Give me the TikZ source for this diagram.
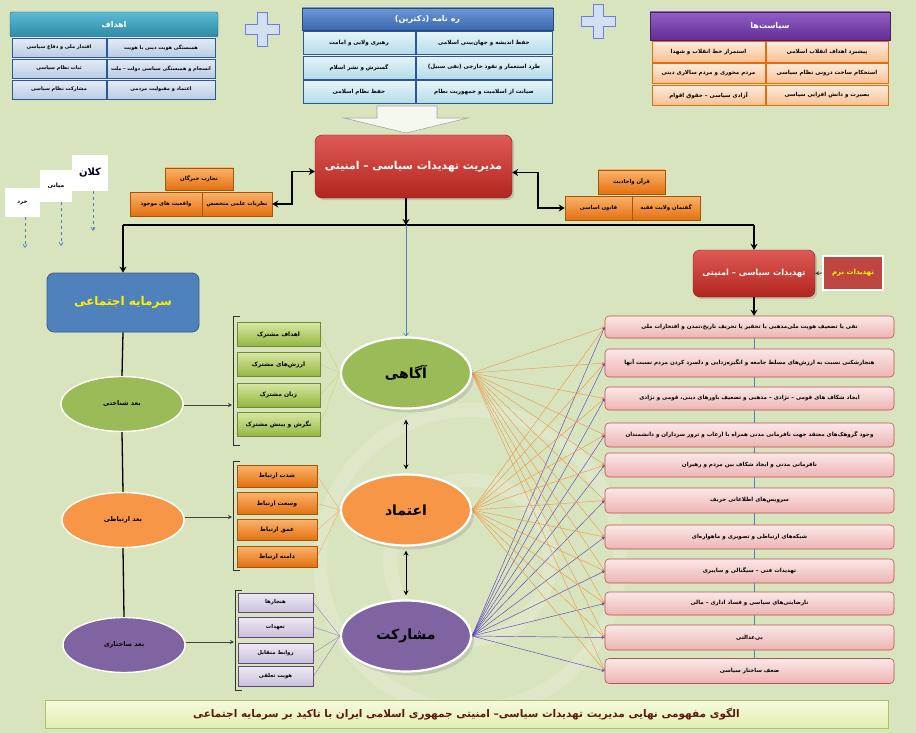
\documentclass[tikz,border=0pt]{standalone}
\usepackage{fontspec}
\TeXXeTstate=1
\newfontfamily\fa[Script=Arabic]{DejaVu Sans}
\usetikzlibrary{shapes.geometric,arrows.meta,calc,shadows}
\pgfdeclarelayer{back}
\pgfdeclarelayer{mid}
\pgfsetlayers{back,mid,main}
\newcommand\RL[1]{\beginR#1\endR}
\newcommand\FS[1]{\fontsize{#1}{#1}\selectfont}
\definecolor{bg}{HTML}{D7E4BD}
\definecolor{tealT}{HTML}{5BBAD5}\definecolor{tealB}{HTML}{2E8AA6}
\definecolor{gcT}{HTML}{E4ECF7}\definecolor{gcB}{HTML}{B9CDE5}\definecolor{gcD}{HTML}{2F5597}
\definecolor{dhT}{HTML}{6C98D6}\definecolor{dhB}{HTML}{3A68AE}
\definecolor{dcT}{HTML}{E7F5F9}\definecolor{dcB}{HTML}{B2DCE8}
\definecolor{phT}{HTML}{9160C4}\definecolor{phB}{HTML}{622C94}
\definecolor{pcT}{HTML}{FDEBDD}\definecolor{pcB}{HTML}{FAC08F}\definecolor{pcD}{HTML}{E46C0A}
\definecolor{redT}{HTML}{DE5A55}\definecolor{redB}{HTML}{B3251F}\definecolor{redD}{HTML}{8C1C18}
\definecolor{orT}{HTML}{FBB36B}\definecolor{orB}{HTML}{E3700F}\definecolor{orD}{HTML}{A85408}
\definecolor{grT}{HTML}{D6E8A2}\definecolor{grB}{HTML}{93B640}\definecolor{grD}{HTML}{6E8B33}
\definecolor{puT}{HTML}{EEE9F4}\definecolor{puB}{HTML}{CBBFDB}\definecolor{puD}{HTML}{5F497A}
\definecolor{pkT}{HTML}{FBE8E8}\definecolor{pkB}{HTML}{EDB4B3}\definecolor{pkD}{HTML}{C0504D}
\definecolor{ellG}{HTML}{9BBB59}\definecolor{ellO}{HTML}{F79646}\definecolor{ellP}{HTML}{8064A2}
\definecolor{blueBox}{HTML}{4F81BD}\definecolor{blueD}{HTML}{385D8A}
\definecolor{banT}{HTML}{F6FADF}\definecolor{banB}{HTML}{E4EFB0}\definecolor{banD}{HTML}{A9C26A}
\definecolor{banTxt}{HTML}{5C1A12}
\tikzset{
  base/.style={inner sep=1pt, align=center, font={\fa\bfseries\FS{6.5}}},
  ghead/.style={base, draw=tealB!70!black, top color=tealT, bottom color=tealB, text=white, rounded corners=2pt, font={\fa\bfseries\FS{8}}},
  gcell/.style={base, draw=gcD, line width=0.6pt, top color=gcT, bottom color=gcB, minimum height=19pt, font={\fa\bfseries\FS{5}}},
  dhead/.style={base, draw=dhB!70!black, top color=dhT, bottom color=dhB, text=white, font={\fa\bfseries\FS{8}}},
  dcell/.style={base, draw=gcD, line width=0.6pt, top color=dcT, bottom color=dcB, minimum height=23pt, font={\fa\bfseries\FS{5.6}}},
  phead/.style={base, draw=phB!70!black, top color=phT, bottom color=phB, text=white, font={\fa\bfseries\FS{8}}},
  pcell/.style={base, draw=pcD, line width=0.6pt, top color=pcT, bottom color=pcB, minimum height=20.5pt, font={\fa\bfseries\FS{5.6}}},
  redbox/.style={base, draw=redD, top color=redT, bottom color=redB, text=white, rounded corners=7pt, drop shadow={opacity=0.3}},
  brick/.style={base, draw=orD, line width=0.5pt, top color=orT, bottom color=orB, font={\fa\bfseries\FS{5.4}}},
  gbox/.style={base, draw=grD, line width=0.5pt, top color=grT, bottom color=grB, minimum width=83pt, font={\fa\bfseries\FS{6}}},
  obox/.style={base, draw=orD, line width=0.5pt, top color=orT, bottom color=orB, minimum width=80pt, font={\fa\bfseries\FS{6}}},
  ubox/.style={base, draw=puD, line width=0.6pt, top color=puT, bottom color=puB, minimum width=75pt, font={\fa\bfseries\FS{5.4}}},
  pink/.style={base, draw=pkD, line width=0.6pt, top color=pkT, bottom color=pkB, rounded corners=4pt, minimum width=289pt, font={\fa\bfseries\FS{5.6}}},
  smallell/.style={base, ellipse, draw=white, line width=1.4pt, minimum width=122pt, minimum height=55pt, inner sep=0pt, font={\fa\bfseries\FS{6.5}}},
  bigell/.style={base, ellipse, draw=white, line width=2.2pt, minimum width=130pt, minimum height=71pt, inner sep=0pt, font={\fa\bfseries\FS{14}}, drop shadow={opacity=0.25, shadow xshift=3pt, shadow yshift=-4pt}},
  lvl/.style={base, fill=white, inner sep=0pt},
  thickline/.style={line width=1.7pt, black},
  tarrow/.style={thickline, -{Stealth[length=6pt,width=7pt]}},
  dblarrow/.style={thickline, {Stealth[length=6pt,width=7pt]}-{Stealth[length=6pt,width=7pt]}},
  thinarrow/.style={line width=0.8pt, black!75, -{Stealth[length=4pt,width=4pt]}},
  vline/.style={line width=1.3pt, black},
  blueline/.style={line width=0.6pt, blueBox},
  dashblue/.style={line width=0.7pt, blueBox, dashed, -{Straight Barb[length=3pt,width=4pt]}},
  bracket/.style={line width=0.8pt, black!80},
  fanG/.style={line width=0.4pt, grT!70!grB},
  fanO/.style={line width=0.4pt, ellO!80},
  fanP/.style={line width=0.4pt, ellP!80},
  fanA/.style={line width=0.45pt, orB!70!white, -{Stealth[length=3pt,width=3pt]}},
  fanB/.style={line width=0.45pt, ellO, -{Stealth[length=3pt,width=3pt]}},
  fanC/.style={line width=0.45pt, ellP!70!blue, -{Stealth[length=3pt,width=3pt]}},
  plus/.style={fill=gcT!60!gcB, draw=gcB!60!blue, line width=0.9pt},
}
\begin{document}
\begin{tikzpicture}[x=1pt,y=-1pt]
\useasboundingbox (0,0) rectangle (916,733);
\begin{pgfonlayer}{back}
\fill[bg] (0,0) rectangle (916,733);
\begin{scope}[white, opacity=0.18, line width=14pt]
  \draw (470,560) circle[radius=150];
  \draw (470,560) circle[radius=80];
\end{scope}
\end{pgfonlayer}

% ---------- Goals panel ----------
\node[ghead, minimum width=208pt, minimum height=25pt] (gh) at (114,24.5) {\RL{اهداف}};
\node[gcell, minimum width=108pt] (g1r) at (161,47.5) {\RL{همبستگی هویت دینی با هویت}};
\node[gcell, minimum width=94pt]  (g1l) at (59,47.5)  {\RL{اقتدار ملی و دفاع سیاسی}};
\node[gcell, minimum width=108pt] (g2r) at (161,68.5) {\RL{انسجام و همبستگی سیاسی دولت – ملت}};
\node[gcell, minimum width=94pt]  (g2l) at (59,68.5)  {\RL{ثبات نظام سیاسی}};
\node[gcell, minimum width=108pt] (g3r) at (161,89.5) {\RL{اعتماد و مقبولیت مردمی}};
\node[gcell, minimum width=94pt]  (g3l) at (59,89.5)  {\RL{مشارکت نظام سیاسی}};

% ---------- plus signs ----------
\foreach \cx/\cy in {262/29, 598/21}{
  \draw[plus] (\cx-5,\cy-17) -- (\cx+5,\cy-17) -- (\cx+5,\cy-5) -- (\cx+17,\cy-5) -- (\cx+17,\cy+5) -- (\cx+5,\cy+5) -- (\cx+5,\cy+17) -- (\cx-5,\cy+17) -- (\cx-5,\cy+5) -- (\cx-17,\cy+5) -- (\cx-17,\cy-5) -- (\cx-5,\cy-5) -- cycle;
}

% ---------- Doctrine panel ----------
\node[dhead, minimum width=251pt, minimum height=22pt] (dh) at (427.5,19) {\RL{ره نامه (دکترین)}};
\node[dcell, minimum width=136pt] (d1r) at (484,43)   {\RL{حفظ اندیشه و جهان‌بینی اسلامی}};
\node[dcell, minimum width=112pt] (d1l) at (359,43)   {\RL{رهبری ولایی و امامت}};
\node[dcell, minimum width=136pt] (d2r) at (484,67.5) {\RL{طرد استعمار و نفوذ خارجی (نفی سبیل)}};
\node[dcell, minimum width=112pt] (d2l) at (359,67.5) {\RL{گسترش و نشر اسلام}};
\node[dcell, minimum width=136pt] (d3r) at (484,92)   {\RL{صیانت از اسلامیت و جمهوریت نظام}};
\node[dcell, minimum width=112pt] (d3l) at (359,92)   {\RL{حفظ نظام اسلامی}};

% block arrow under doctrine
\draw[fill=white, fill opacity=0.75, draw=black!35, line width=0.6pt]
  (377,106) -- (437,106) -- (437,118) -- (468,118) -- (406,133) -- (344,118) -- (377,118) -- cycle;

% ---------- Policies panel ----------
\node[phead, minimum width=240pt, minimum height=28pt] (ph) at (770,26) {\RL{سیاست‌ها}};
\node[pcell, minimum width=122pt] (p1r) at (827,52)   {\RL{پیشبرد اهداف انقلاب اسلامی}};
\node[pcell, minimum width=113pt] (p1l) at (708.5,52) {\RL{استمرار خط انقلاب و شهدا}};
\node[pcell, minimum width=122pt] (p2r) at (827,73.5) {\RL{استحکام ساخت درونی نظام سیاسی}};
\node[pcell, minimum width=113pt] (p2l) at (708.5,73.5) {\RL{مردم محوری و مردم سالاری دینی}};
\node[pcell, minimum width=122pt] (p3r) at (827,95.5) {\RL{بصیرت و دانش افزایی سیاسی}};
\node[pcell, minimum width=113pt] (p3l) at (708.5,95.5) {\RL{آزادی سیاسی – حقوق اقوام}};

% ---------- central red box ----------
\node[redbox, minimum width=197pt, minimum height=63pt, font={\fa\bfseries\FS{10.8}}] (mgr) at (413.5,166.5) {\RL{مدیریت تهدیدات سیاسی – امنیتی}};

% bricks left
\node[brick, minimum width=68pt, minimum height=22pt] (b1) at (199,179) {\RL{تجارب خبرگان}};
\node[brick, minimum width=70pt, minimum height=24pt] (b2) at (237,204) {\RL{نظریات علمی متخصص}};
\node[brick, minimum width=72pt, minimum height=24pt] (b3) at (166,204) {\RL{واقعیت های موجود}};
% bricks right
\node[brick, minimum width=67pt, minimum height=24pt] (b4) at (631.5,182) {\RL{قرآن واحادیث}};
\node[brick, minimum width=67pt, minimum height=24pt] (b5) at (598.5,208) {\RL{قانون اساسی}};
\node[brick, minimum width=68pt, minimum height=24pt] (b6) at (666,208) {\RL{گفتمان ولایت فقیه}};

\draw[dblarrow] ([yshift=-5pt]mgr.west) -- ++(-23,0) |- (b2.east);
\draw[dblarrow] ([yshift=-6pt]mgr.east) -- ++(26,0) |- (b5.west);

% level labels
\node[lvl, minimum width=35pt, minimum height=29pt, font={\fa\bfseries\FS{5.5}}] (kh) at (22.5,202.5) {\RL{خرد}};
\node[lvl, minimum width=32pt, minimum height=32pt, font={\fa\bfseries\FS{6}}] (mi) at (56,186) {\RL{میانی}};
\node[lvl, minimum width=36pt, minimum height=36pt, font={\fa\bfseries\FS{10}}, text=black!85!blue] (ka) at (90,173) {\RL{کلان}};
\coordinate (khE) at (25,248);
\coordinate (miE) at (61,246);
\coordinate (kaE) at (93,231);
\draw[dashblue] (kh.south -| khE) -- (khE);
\draw[dashblue] (mi.south -| miE) -- (miE);
\draw[dashblue] (ka.south -| kaE) -- (kaE);

% ---------- red box right + soft threats ----------
\node[redbox, minimum width=122pt, minimum height=47pt, font={\fa\bfseries\FS{8.3}}] (r2) at (754,273.5) {\RL{تهدیدات سیاسی – امنیتی}};
\node[base, fill=redB!85!white, draw=white, line width=1.5pt, minimum width=60pt, minimum height=34pt, text=yellow, font={\fa\bfseries\FS{7}}] (soft) at (853,273) {\RL{تهدیدات نرم}};
\draw[thinarrow] (soft.west) -- (r2.east);

% ---------- social capital column ----------
\node[base, fill=blueBox, draw=blueD, line width=0.8pt, rounded corners=7pt, minimum width=152pt, minimum height=59pt, text=yellow, font={\fa\bfseries\FS{12}}] (sc) at (123,302.5) {\RL{سرمایه اجتماعی}};
\node[smallell, fill=ellG] (e1) at (122,404) {\RL{بعد شناختی}};
\node[smallell, fill=ellO] (e2) at (123,520) {\RL{بعد ارتباطی}};
\node[smallell, fill=ellP] (e3) at (124,645) {\RL{بعد ساختاری}};
\draw[vline] (sc.south) -- (e1.north);
\draw[vline] (e1.south) -- (e2.north);
\draw[vline] (e2.south) -- (e3.north);

% main connectors
\coordinate (J) at (406,225);
\draw[tarrow] (J |- mgr.south) -- (J);
\draw[thickline] (sc.north |- J) -- (r2.north |- J);
\draw[tarrow] (sc.north |- J) -- (sc.north);
\draw[tarrow] (r2.north |- J) -- (r2.north);

% ---------- big ellipses ----------
\node[bigell, fill=ellG] (E1) at (406,373) {\RL{آگاهی}};
\node[bigell, fill=ellO] (E2) at (406,510) {\RL{اعتماد}};
\node[bigell, fill=ellP] (E3) at (406,636) {\RL{مشارکت}};
\draw[blueline, -{Straight Barb[length=3pt,width=5pt]}] (J) -- (E1.north);
\draw[line width=0.9pt, {Stealth[length=5pt,width=5pt]}-{Stealth[length=5pt,width=5pt]}, shorten <=10pt, shorten >=4pt] (E1.south) -- (E2.north);
\draw[line width=0.9pt, {Stealth[length=5pt,width=5pt]}-{Stealth[length=5pt,width=5pt]}, shorten <=4pt, shorten >=4pt] (E2.south) -- (E3.north);

% ---------- component boxes ----------
\node[gbox, minimum height=24pt] (gb1) at (278.5,334.5) {\RL{اهداف مشترک}};
\node[gbox, minimum height=24pt] (gb2) at (278.5,364.5) {\RL{ارزش‌های مشترک}};
\node[gbox, minimum height=24pt] (gb3) at (278.5,395)   {\RL{زبان مشترک}};
\node[gbox, minimum height=24pt] (gb4) at (278.5,424.5) {\RL{نگرش و بینش مشترک}};
\node[obox, minimum height=22pt] (ob1) at (277,476)   {\RL{شدت ارتباط}};
\node[obox, minimum height=22pt] (ob2) at (277,503.5) {\RL{وسعت ارتباط}};
\node[obox, minimum height=21pt] (ob3) at (277,530)   {\RL{عمق ارتباط}};
\node[obox, minimum height=21pt] (ob4) at (277,556.5) {\RL{دامنه ارتباط}};
\node[ubox, minimum height=19pt] (ub1) at (275.5,602.5) {\RL{هنجارها}};
\node[ubox, minimum height=20pt] (ub2) at (275.5,627)   {\RL{تعهدات}};
\node[ubox, minimum height=20pt] (ub3) at (275.5,653)   {\RL{روابط متقابل}};
\node[ubox, minimum height=20pt] (ub4) at (275.5,676.5) {\RL{هویت تعلقی}};
\begin{pgfonlayer}{mid}
\foreach \i in {1,...,4}{
  \draw[fanG] (gb\i.east) -- (E1.west);
  \draw[fanO] (ob\i.east) -- (E2.west);
  \draw[fanP] (ub\i.east) -- (E3.west);
}
\end{pgfonlayer}
% brackets
\draw[bracket] (240,316) -- (233,316) -- (233,445) -- (240,445);
\draw[bracket] (240,461) -- (233,461) -- (233,570) -- (240,570);
\draw[bracket] (242,590) -- (235,590) -- (235,690) -- (242,690);
\coordinate (k1) at (232,405);
\coordinate (k2) at (232,517);
\coordinate (k3) at (234,642);
\draw[thinarrow] (e1.east |- k1) -- (k1);
\draw[thinarrow] (e2.east |- k2) -- (k2);
\draw[thinarrow] (e3.east |- k3) -- (k3);

% ---------- threats list ----------
\foreach \i/\y/\h/\t in {
  1/327/22/{نفی یا تضعیف هویت ملی‌مذهبی با تحقیر یا تحریف تاریخ،تمدن و افتخارات ملی},
  2/363/28/{هنجارشکنی نسبت به ارزش‌های مسلط جامعه و انگیزه‌زدایی و دلسرد کردن مردم نسبت آنها},
  3/398.5/23/{ایجاد شکاف های قومی – نژادی – مذهبی و تضعیف باورهای دینی، قومی و نژادی},
  4/435/24/{وجود گروهک‌های معتقد جهت نافرمانی مدنی همراه با ارعاب و ترور سرداران و دانشمندان},
  5/465/24/{نافرمانی مدنی و ایجاد شکاف بین مردم و رهبران},
  6/500.5/25/{سرویس‌های اطلاعاتی حریف},
  7/537/24/{شبکه‌های ارتباطی و تصویری و ماهواره‌ای},
  8/571/24/{تهدیدات فنی – سیگنالی و سایبری},
  9/603.5/23/{نارضایتی‌های سیاسی و فساد اداری – مالی},
  10/637.5/25/{بی‌عدالتی},
  11/671/25/{ضعف ساختار سیاسی}}{
  \node[pink, minimum height=\h pt] (t\i) at (749.5,\y) {\RL{\t}};
}
\begin{pgfonlayer}{mid}
\draw[blueline] (t1.south -| r2.south) -- (t11.north -| r2.south);
\foreach \i in {1,...,11}{
  \draw[fanA] (E1.east) -- (t\i.west);
  \draw[fanB] (E2.east) -- (t\i.west);
  \draw[fanC] (E3.east) -- (t\i.west);
}
\end{pgfonlayer}
\draw[tarrow] (r2.south) -- (t1.north -| r2.south);

% ---------- banner ----------
\node[base, draw=banD, line width=0.8pt, top color=banT, bottom color=banB, minimum width=843pt, minimum height=28pt, text=banTxt, font={\fa\bfseries\FS{10.5}}] (ban) at (466.5,714) {\RL{الگوی مفهومی نهایی مدیریت تهدیدات سیاسی– امنیتی جمهوری اسلامی ایران با تاکید بر سرمایه اجتماعی}};
\end{tikzpicture}
\end{document}
